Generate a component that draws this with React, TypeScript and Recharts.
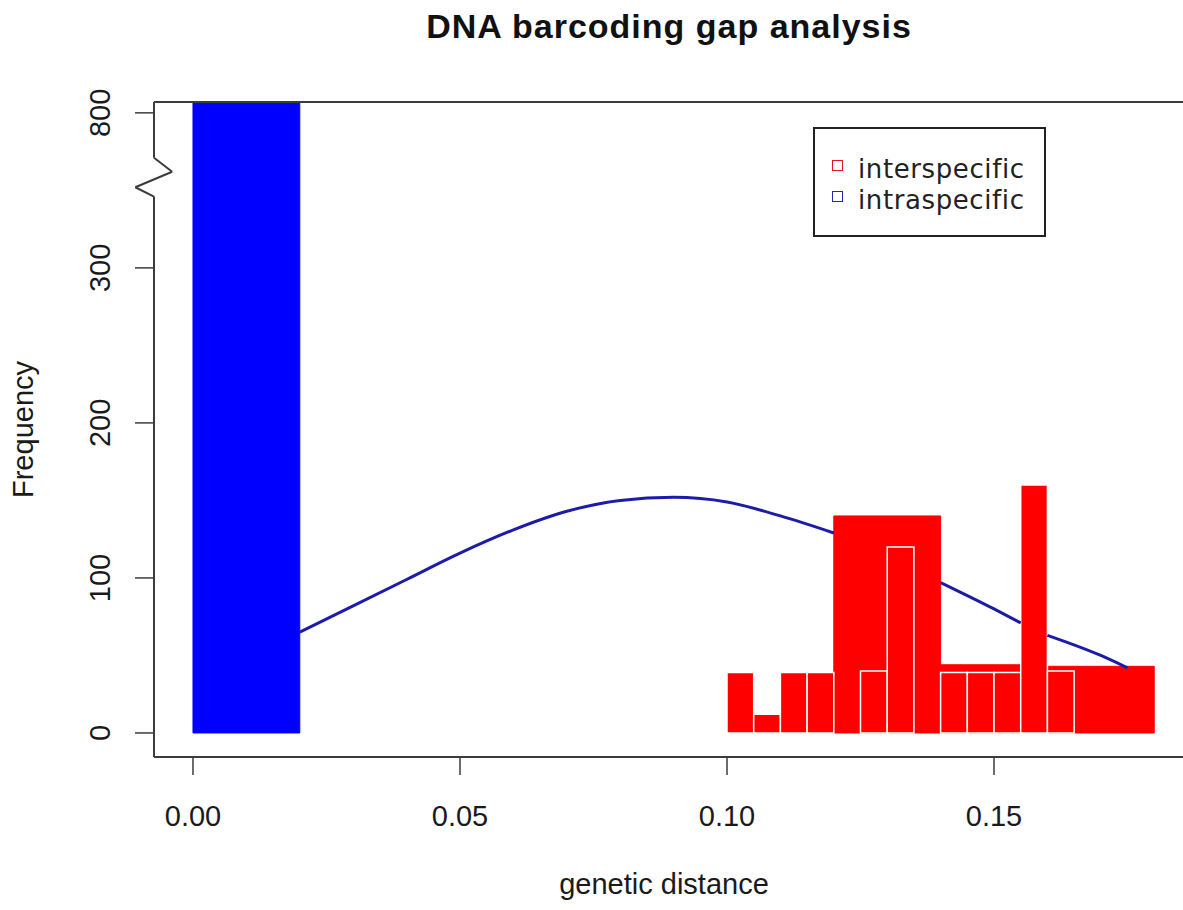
import {
    ComposedChart,
    Line,
    XAxis,
    YAxis,
    ReferenceArea,
    ReferenceLine,
    Legend,
    Label,
} from "recharts"

// fitted normal curve; null where it runs behind the bars
const distance = [
    0.02, 0.03, 0.04, 0.05, 0.06, 0.07, 0.08, 0.09, 0.1, 0.11, 0.12, 0.13, 0.14,
    0.15, 0.155, 0.158, 0.16, 0.17, 0.175,
]
const normalFit = [
    65, 82, 99, 116, 131, 143, 150, 152, 149, 140, 129, null, 97, 80, 71, null,
    63, 50, 42,
]

// intraspecific histogram (runs off the top of the broken axis)
const intraFrom = [0]
const intraTo = [0.02]
const intraCount = [860]

// interspecific, coarse breaks (drawn underneath)
const interWideFrom = [0.12, 0.14, 0.16]
const interWideTo = [0.14, 0.155, 0.18]
const interWideCount = [140, 44, 43]

// interspecific, fine breaks
const interFrom = [0.1, 0.105, 0.11, 0.115, 0.125, 0.13, 0.14, 0.145, 0.15, 0.155, 0.16]
const interTo = [0.105, 0.11, 0.115, 0.12, 0.13, 0.135, 0.145, 0.15, 0.155, 0.16, 0.165]
const interCount = [39, 12, 39, 39, 40, 120, 39, 39, 39, 160, 40]

const xTicks = [0, 0.05, 0.1, 0.15]
const yTicks = [0, 100, 200, 300, 800]

const legendLabels = ["interspecific", "intraspecific"]
const legendColors = ["#d81a22", "#2626c0"]

// y axis is broken above 300, everything past that is squeezed 5x
const BREAK = 300
const SQUEEZE = 5
const squash = (v: number) => (v <= BREAK ? v : BREAK + (v - BREAK) / SQUEEZE)
const yTickPos = yTicks.map(squash)

const X_MIN = -0.0073
const X_MAX = 0.1867
const Y_MIN = -15.5
const Y_MAX = 407

const AXIS = "#3c3c3c"
const FONT = "'Liberation Sans', Arial, sans-serif"
const TEXT = { fontFamily: FONT, fontSize: 29, fill: "#1a1a1a" }

const renderYTick = (props: any) => {
    const { x, y, payload } = props
    const label = yTicks[yTickPos.indexOf(payload.value)]
    return (
        <text x={x} y={y} transform={`rotate(-90 ${x} ${y})`} textAnchor="middle" {...TEXT}>
            {label}
        </text>
    )
}

const renderLegend = () => (
    <div
        style={{
            width: 233,
            height: 110,
            boxSizing: "border-box",
            border: "2px solid #222",
            background: "#fff",
            padding: "24px 0 0 17px",
            fontFamily: "'DejaVu Sans', sans-serif",
            fontSize: 26,
            letterSpacing: 0.6,
            color: "#222",
        }}
    >
        {legendLabels.map((name, i) => (
            <div key={name} style={{ display: "flex", alignItems: "center", height: 31 }}>
                <span
                    style={{
                        display: "inline-block",
                        position: "relative",
                        top: -3,
                        width: 9,
                        height: 9,
                        border: `1.5px solid ${legendColors[i]}`,
                        marginRight: 15,
                    }}
                />
                <span style={{ lineHeight: "28px", height: 28 }}>{name}</span>
            </div>
        ))}
    </div>
)

export default function App() {
    const data = distance.map((d, i) => ({ distance: d, fit: normalFit[i] }))

    // zigzag on the left frame marking the axis break
    const zig = [
        { x: X_MIN, y: Y_MIN },
        { x: X_MIN, y: 346 },
        { x: X_MIN - 0.0035, y: 352 },
        { x: X_MIN + 0.0034, y: 362 },
        { x: X_MIN, y: 371 },
        { x: X_MIN, y: Y_MAX },
    ]

    return (
        <div
            style={{
                position: "absolute",
                left: 0,
                top: 0,
                width: 1183,
                height: 910,
                overflow: "hidden",
                background: "#fff",
            }}
        >
            <div
                style={{
                    position: "absolute",
                    left: 669,
                    top: 9,
                    transform: "translateX(-50%)",
                    fontFamily: FONT,
                    fontWeight: "bold",
                    fontSize: 34,
                    lineHeight: 1,
                    letterSpacing: 1,
                    whiteSpace: "nowrap",
                    color: "#111",
                }}
            >
                DNA barcoding gap analysis
            </div>
            <ComposedChart
                width={1190}
                height={910}
                data={data}
                margin={{ top: 0, right: 0, bottom: 0, left: 0 }}
            >
                <XAxis
                    xAxisId="top"
                    orientation="top"
                    type="number"
                    dataKey="distance"
                    domain={[X_MIN, X_MAX]}
                    allowDataOverflow
                    height={102}
                    tick={false}
                    tickLine={false}
                    axisLine={{ stroke: AXIS, strokeWidth: 2 }}
                />
                <XAxis
                    type="number"
                    dataKey="distance"
                    domain={[X_MIN, X_MAX]}
                    allowDataOverflow
                    ticks={xTicks}
                    interval={0}
                    tickFormatter={(v: number) => v.toFixed(2)}
                    height={153}
                    tickSize={18}
                    tickMargin={30}
                    tick={TEXT}
                    tickLine={{ stroke: AXIS, strokeWidth: 1.5 }}
                    axisLine={{ stroke: AXIS, strokeWidth: 2 }}
                >
                    <Label
                        value="genetic distance"
                        position="insideBottom"
                        offset={16}
                        dx={-8}
                        style={TEXT}
                    />
                </XAxis>
                <YAxis
                    type="number"
                    domain={[Y_MIN, Y_MAX]}
                    allowDataOverflow
                    ticks={yTickPos}
                    interval={0}
                    width={154}
                    tickSize={19}
                    tickMargin={25}
                    tick={renderYTick}
                    tickLine={{ stroke: AXIS, strokeWidth: 1.5 }}
                    axisLine={false}
                >
                    <Label
                        value="Frequency"
                        angle={-90}
                        position="insideLeft"
                        offset={23}
                        style={{ ...TEXT, textAnchor: "middle" }}
                    />
                </YAxis>

                {intraFrom.map((x0, i) => (
                    <ReferenceArea
                        key={`intra-${i}`}
                        x1={x0}
                        x2={intraTo[i]}
                        y1={0}
                        y2={squash(intraCount[i])}
                        fill="#0000ff"
                        fillOpacity={1}
                        stroke="#0000ff"
                        ifOverflow="hidden"
                    />
                ))}
                {interWideFrom.map((x0, i) => (
                    <ReferenceArea
                        key={`wide-${i}`}
                        x1={x0}
                        x2={interWideTo[i]}
                        y1={0}
                        y2={squash(interWideCount[i])}
                        fill="#ff0000"
                        fillOpacity={1}
                        stroke="#ff0000"
                        ifOverflow="hidden"
                    />
                ))}
                {interFrom.map((x0, i) => (
                    <ReferenceArea
                        key={`fine-${i}`}
                        x1={x0}
                        x2={interTo[i]}
                        y1={0}
                        y2={squash(interCount[i])}
                        fill="#ff0000"
                        fillOpacity={1}
                        stroke="#ffffff"
                        strokeWidth={1.5}
                        ifOverflow="hidden"
                    />
                ))}

                <Line
                    dataKey="fit"
                    type="monotone"
                    stroke="#1c1ca8"
                    strokeWidth={3}
                    dot={false}
                    activeDot={false}
                    connectNulls={false}
                    isAnimationActive={false}
                />

                {zig.slice(1).map((p, i) => (
                    <ReferenceLine
                        key={`frame-${i}`}
                        segment={[zig[i], p]}
                        stroke={AXIS}
                        strokeWidth={2}
                        ifOverflow="visible"
                    />
                ))}

                <Legend
                    layout="horizontal"
                    verticalAlign="middle"
                    align="center"
                    wrapperStyle={{ position: "absolute", left: 813, top: 127, width: 233, height: 110 }}
                    content={renderLegend}
                />
            </ComposedChart>
        </div>
    )
}
